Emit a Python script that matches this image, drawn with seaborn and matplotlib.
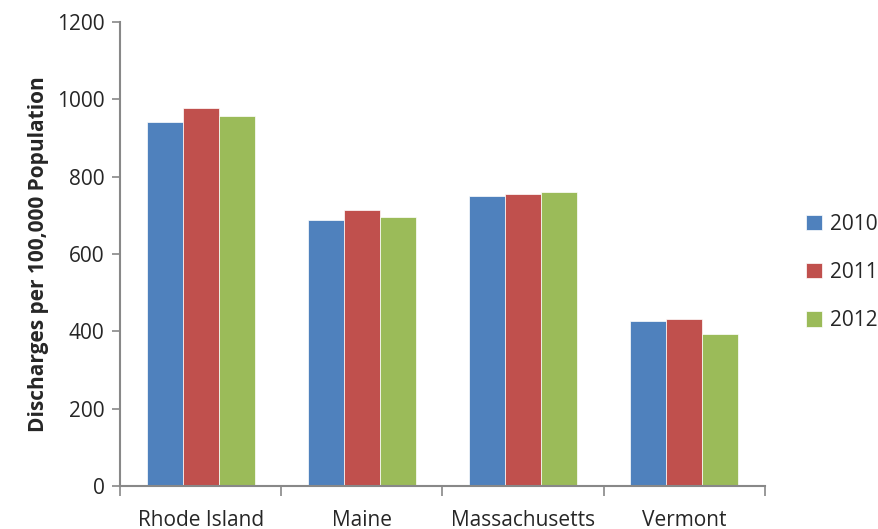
import pandas as pd
import matplotlib
matplotlib.use("Agg")
import matplotlib.pyplot as plt
import seaborn as sns

states = ["Rhode Island", "Maine", "Massachusetts", "Vermont"]
years = ["2010", "2011", "2012"]
rate_2010 = [941, 687, 750, 428]
rate_2011 = [978, 714, 754, 433]
rate_2012 = [957, 697, 760, 393]
colors = ["#4F81BD", "#C0504D", "#9BBB59"]

df = pd.DataFrame({
    "State": states * 3,
    "Year": [y for y in years for _ in states],
    "Rate": rate_2010 + rate_2011 + rate_2012,
})

sns.set_style("white")
plt.rcParams["font.family"] = ["Open Sans", "DejaVu Sans"]

fig = plt.figure(figsize=(8.79, 5.29), dpi=100)
ax = fig.add_axes([0.1365, 0.0813, 0.7338, 0.877])
sns.barplot(data=df, x="State", y="Rate", hue="Year", palette=colors,
            width=0.67, saturation=1, ax=ax, edgecolor="white", linewidth=0.5)

ax.set_ylim(0, 1200)
ax.set_yticks(range(0, 1201, 200))
ax.set_xlim(-0.5, 3.5)
ax.set_xlabel("")
ax.set_ylabel("Discharges per 100,000 Population", fontsize=15, fontweight="bold", labelpad=6)

for side in ["top", "right"]:
    ax.spines[side].set_visible(False)
for side in ["left", "bottom"]:
    ax.spines[side].set_color("#888888")
    ax.spines[side].set_linewidth(1.5)

# category boundary ticks on x, labels centred
ax.set_xticks([-0.5, 0.5, 1.5, 2.5, 3.5], minor=True)
ax.tick_params(axis="x", which="minor", bottom=True, length=7, width=1.2,
               color="#888888", direction="out")
ax.tick_params(axis="x", which="major", bottom=True, length=0, labelsize=15, pad=17)
ax.tick_params(axis="y", left=True, length=6, width=1.2, color="#888888",
               direction="out", labelsize=15, pad=5)

ax.legend(loc="center left", bbox_to_anchor=(1.035, 0.46), frameon=False, fontsize=15,
          handlelength=0.75, handleheight=0.75, handletextpad=0.4, labelspacing=1.3)

fig.savefig("out.png", dpi=100)
